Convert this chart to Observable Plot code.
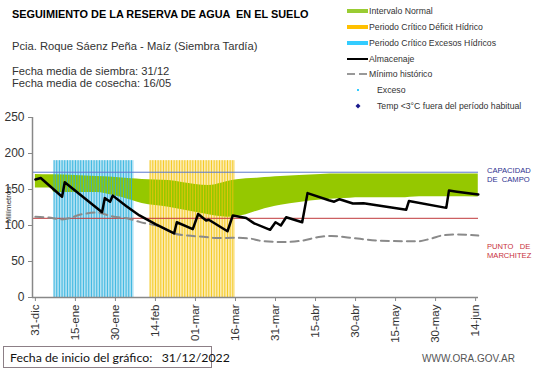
<!DOCTYPE html>
<html>
<head>
<meta charset="utf-8">
<script src="https://cdn.jsdelivr.net/npm/d3@7"></script>
<script src="https://cdn.jsdelivr.net/npm/@observablehq/plot@0.6"></script>
<style>
  body { margin: 0; background: #fff; }
  #wrap { position: relative; width: 541px; height: 368px; font-family: "Liberation Sans", Arial, sans-serif; }
  #chart, #overlay { position: absolute; left: 0; top: 0; }
  #overlay { pointer-events: none; }
</style>
</head>
<body>
<div id="wrap">
  <div id="chart"></div>
  <svg id="overlay" width="541" height="368"></svg>
</div>
<script>
// ---------- DATA ----------
const almacenajeDates = ["2022-12-31","2023-01-02","2023-01-10","2023-01-11","2023-01-25","2023-01-26","2023-01-28","2023-01-29","2023-02-03","2023-02-08","2023-02-14","2023-02-21","2023-02-22","2023-02-28","2023-03-02","2023-03-05","2023-03-06","2023-03-13","2023-03-15","2023-03-20","2023-03-23","2023-03-29","2023-03-31","2023-04-02","2023-04-04","2023-04-10","2023-04-12","2023-04-20","2023-04-22","2023-04-24","2023-04-29","2023-05-03","2023-05-19","2023-05-20","2023-06-03","2023-06-04","2023-06-07","2023-06-15"];
const almacenajeValues = [164,166,140,160,118.5,138,133,141.5,127,114,102,89,104.5,95,116,107,108,92,114,110.5,103,94,104.5,100,111.5,104.5,145,135,133,136.5,130.5,131,122,134,124.5,148.5,147,143];

const minimoDates = ["2022-12-31","2023-01-05","2023-01-10","2023-01-18","2023-01-23","2023-01-29","2023-02-04","2023-02-08","2023-02-16","2023-02-21","2023-02-26","2023-03-04","2023-03-09","2023-03-15","2023-03-22","2023-03-25","2023-04-03","2023-04-10","2023-04-17","2023-04-21","2023-04-28","2023-05-09","2023-05-23","2023-05-28","2023-06-02","2023-06-07","2023-06-15"];
const minimoValues = [112,111,108.5,116,118,112.5,109.5,105,98,89,86,84.5,82.5,83,81.5,79,77,79,84.5,85.5,83,79,78,81.5,86.5,87.5,86];

const normalDates = ["2022-12-31","2023-01-06","2023-01-07","2023-01-23","2023-01-29","2023-02-05","2023-02-09","2023-02-19","2023-03-01","2023-03-06","2023-03-11","2023-03-13","2023-03-20","2023-03-25","2023-03-29","2023-04-02","2023-04-09","2023-04-17","2023-04-24","2023-05-02","2023-05-17","2023-05-24","2023-06-05","2023-06-15"];
const normalLow  = [152,152,146,146,142,135,130.5,125.5,118.5,115,112,111.5,115,121,125,128,132,135.5,137,138.5,138.5,140,140,139.5];
const normalHigh = [171,170.5,170.5,168,167,165,164,162.5,157,155.5,159,161,165,166,167,168,169.5,171,171.5,171.5,171.5,171.5,171.5,171.5];

const periodNames = ["Periodo Crítico Excesos Hídricos","Periodo Crítico Déficit Hídrico"];
const periodStart = ["2023-01-07","2023-02-12"];
const periodEnd   = ["2023-02-05","2023-03-15"];
const periodTop = 190;

const capacidadCampo = 174;
const puntoMarchitez = 110;

const yTicks = [0,50,100,150,200,250];
const xTickDates = ["2022-12-31","2023-01-15","2023-01-30","2023-02-14","2023-03-01","2023-03-16","2023-03-31","2023-04-15","2023-04-30","2023-05-15","2023-05-30","2023-06-14"];
const xTickLabels = ["31-dic","15-ene","30-ene","14-feb","01-mar","16-mar","31-mar","15-abr","30-abr","15-may","30-may","14-jun"];

// ---------- BUILD ----------
const P = d => new Date(d + "T00:00:00Z");
const almacenaje = almacenajeDates.map((d,i) => ({date: P(d), v: almacenajeValues[i]}));
const minimo = minimoDates.map((d,i) => ({date: P(d), v: minimoValues[i]}));
const normal = normalDates.map((d,i) => ({date: P(d), lo: normalLow[i], hi: normalHigh[i]}));
const periods = periodNames.map((n,i) => ({name: n, x1: P(periodStart[i]), x2: P(periodEnd[i]), top: periodTop}));
const periodLight = {"Periodo Crítico Excesos Hídricos": "#b3e2f3", "Periodo Crítico Déficit Hídrico": "#fcebb0"};
const periodDark  = {"Periodo Crítico Excesos Hídricos": "#26aedc", "Periodo Crítico Déficit Hídrico": "#f2c40c"};
const stripes = periods.flatMap(p => d3.utcDay.range(p.x1, d3.utcDay.offset(p.x2, 1)).map(d => ({date: d, name: p.name, top: p.top})));
const tickDates = xTickDates.map(P);
const labelMap = new Map(tickDates.map((d,i) => [+d, xTickLabels[i]]));

const xStart = new Date(Date.UTC(2022,11,29,22));
const xEnd = new Date(Date.UTC(2023,5,15,2));

const chart = Plot.plot({
  width: 541, height: 368,
  marginLeft: 32, marginRight: 63, marginTop: 117, marginBottom: 71,
  style: {fontFamily: "'Liberation Sans', Arial, sans-serif", background: "transparent", color: "#333"},
  x: {type: "utc", domain: [xStart, xEnd], label: null},
  y: {domain: [0, 250], label: null},
  marks: [
    Plot.rect(periods, {x1: "x1", x2: d => d3.utcDay.offset(d.x2, 1), y1: 0, y2: "top", fill: d => periodLight[d.name]}),
    Plot.areaY(normal, {x: "date", y1: "lo", y2: "hi", fill: "#95c800", curve: "monotone-x"}),
    Plot.ruleX(stripes, {x: "date", y1: 0, y2: "top", stroke: d => periodDark[d.name], strokeWidth: 1, strokeOpacity: 0.85}),
    Plot.ruleY([capacidadCampo], {stroke: "#5a78cf", strokeWidth: 1}),
    Plot.ruleY([puntoMarchitez], {stroke: "#c0393b", strokeWidth: 1}),
    Plot.line(minimo, {x: "date", y: "v", stroke: "#8a8a8a", strokeWidth: 2, strokeDasharray: "8,5", curve: "monotone-x"}),
    Plot.line(almacenaje, {x: "date", y: "v", stroke: "#000", strokeWidth: 2.5, strokeLinejoin: "round"}),
    Plot.ruleX([xStart], {stroke: "#888", strokeWidth: 1.5}),
    Plot.ruleY([0], {stroke: "#888", strokeWidth: 1.5}),
    Plot.axisY({ticks: yTicks, tickSize: 4, tickPadding: 4, fontSize: 12, stroke: "#888", fill: "#333", label: null}),
    Plot.axisX({ticks: tickDates, tickFormat: d => labelMap.get(+d), tickRotate: -90, tickSize: 4, tickPadding: 3, fontSize: 11.5, stroke: "#888", fill: "#333", label: null})
  ]
});
document.getElementById("chart").appendChild(chart);

// ---------- OVERLAY TEXTS & LEGEND ----------
const ov = d3.select("#overlay");
const F = "'Liberation Sans', Arial, sans-serif";
function txt(x, y, s, size, opts = {}) {
  return ov.append("text").attr("x", x).attr("y", y).text(s)
    .attr("font-family", opts.family || F).attr("font-size", size)
    .attr("font-weight", opts.weight || "normal").attr("fill", opts.fill || "#222")
    .attr("text-anchor", opts.anchor || "start").style("white-space", "pre");
}
txt(12, 18, "SEGUIMIENTO DE LA RESERVA DE AGUA  EN EL SUELO", 10.9, {weight: "bold", fill: "#000"});
txt(12, 50, "Pcia. Roque Sáenz Peña - Maíz (Siembra Tardía)", 11.2, {fill: "#333"});
txt(12, 74.5, "Fecha media de siembra: 31/12", 11.2, {fill: "#333"});
txt(12, 87, "Fecha media de cosecha: 16/05", 11.2, {fill: "#333"});

const legendItems = ["Intervalo Normal","Periodo Crítico Déficit Hídrico","Periodo Crítico Excesos Hídricos","Almacenaje","Mínimo histórico","Exceso","Temp <3°C fuera del período habitual"];
const legY = [11, 27, 43, 59, 74, 90, 106];
ov.append("rect").attr("x", 347).attr("y", legY[0]-2).attr("width", 21).attr("height", 4).attr("fill", "#99cc33");
ov.append("rect").attr("x", 347).attr("y", legY[1]-2).attr("width", 21).attr("height", 4).attr("fill", "#ffc000");
ov.append("rect").attr("x", 347).attr("y", legY[2]-2).attr("width", 21).attr("height", 4).attr("fill", "#33ccff");
ov.append("line").attr("x1", 347).attr("x2", 368).attr("y1", legY[3]).attr("y2", legY[3]).attr("stroke", "#000").attr("stroke-width", 2);
ov.append("line").attr("x1", 347).attr("x2", 368).attr("y1", legY[4]).attr("y2", legY[4]).attr("stroke", "#999").attr("stroke-width", 2).attr("stroke-dasharray", "8,4");
ov.append("rect").attr("x", 357).attr("y", legY[5]-1).attr("width", 2).attr("height", 2).attr("fill", "#33ccff");
ov.append("path").attr("d", `M358,${legY[6]-2.5}L360.5,${legY[6]}L358,${legY[6]+2.5}L355.5,${legY[6]}Z`).attr("fill", "#1a1a8c");
legendItems.forEach((s,i) => txt(i >= 5 ? 377 : 369, legY[i] + 3, s, 8.7, {fill: "#333"}));

txt(487, 173, "CAPACIDAD", 7.6, {fill: "#2e318f"});
txt(487, 182, "DE  CAMPO", 7.6, {fill: "#2e318f"});
txt(487, 249, "PUNTO   DE", 7.6, {fill: "#c8323c"});
txt(487, 258, "MARCHITEZ", 7.6, {fill: "#c8323c"});

ov.append("text").attr("transform", "translate(11,205) rotate(-90)").attr("text-anchor", "middle")
  .attr("font-family", F).attr("font-size", 8).attr("fill", "#333").text("Milímetros");

ov.append("rect").attr("x", 3.5).attr("y", 346.5).attr("width", 208).attr("height", 21).attr("fill", "none").attr("stroke", "#8c7f86");
txt(10, 361.5, "Fecha de inicio del gráfico:   31/12/2022", 12.3, {family: "Lato, 'Open Sans', sans-serif", fill: "#111"});
txt(515, 362, "WWW.ORA.GOV.AR", 10, {anchor: "end", fill: "#555"});
</script>
</body>
</html>
